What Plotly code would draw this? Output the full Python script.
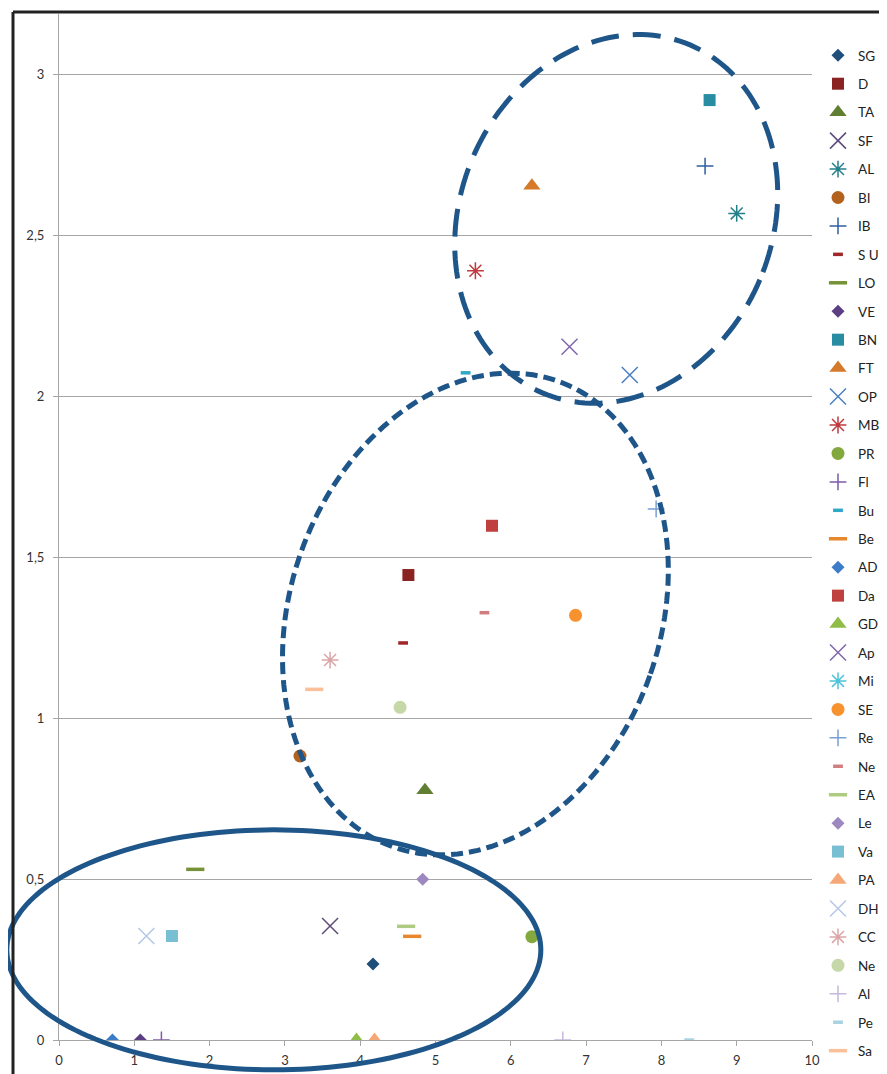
import numpy as np
import plotly.graph_objects as go

# series names, in legend order
names = ["SG", "D", "TA", "SF", "AL", "BI", "IB", "S U", "LO",
         "VE", "BN", "FT", "OP", "MB", "PR", "Fl", "Bu", "Be",
         "AD", "Da", "GD", "Ap", "Mi", "SE", "Re", "Ne", "EA",
         "Le", "Va", "PA", "DH", "CC", "Ne", "Al", "Pe", "Sa"]
x_vals = [4.17, 4.64, 4.86, 3.60, 9.00, 3.20, 8.58, 4.57, 1.81,
          1.08, 8.64, 6.28, 7.58, 5.53, 6.28, 1.36, 5.40, 4.69,
          0.71, 5.75, 3.95, 6.78, None, 6.86, 7.93, 5.65, 4.61,
          4.83, 1.50, 4.19, 1.16, 3.60, 4.53, 6.69, 8.37, 3.39]
y_vals = [0.236, 1.444, 0.776, 0.354, 2.567, 0.882, 2.714, 1.233, 0.530,
          0.0, 2.919, 2.653, 2.065, 2.389, 0.321, 0.0, 2.072, 0.322,
          0.0, 1.597, 0.0, 2.153, None, 1.319, 1.649, 1.327, 0.353,
          0.499, 0.323, 0.0, 0.323, 1.180, 1.033, 0.0, 0.0, 1.089]

colors = ["#1F4E7A", "#8B2323", "#617F32", "#5F497A", "#23808A", "#B3621E", "#2E5FA0", "#A0262A", "#769236",
          "#5B3F82", "#288DA3", "#D47A2A", "#4A7EC0", "#C0393E", "#82A83E", "#7D5BA6", "#2EA8C6", "#E8882E",
          "#3D7CC9", "#C0403F", "#90BC48", "#8266AA", "#4BC3D8", "#F7922F", "#7A9FD3", "#D17F7E", "#AECB82",
          "#9E88C0", "#79BFD4", "#F6A777", "#B5C7E6", "#DAA6A6", "#C6D8A8", "#C7B9DC", "#A7D3E3", "#FBC09A"]

# excel marker cycle: diamond, square, triangle, x, star, circle, plus, short dash, long dash
cycle = [("diamond", 10, 0), ("square", 12, 0), ("triangle-up", 15, 0),
         ("x-thin-open", 16, 1.5), ("asterisk-open", 14, 1.5), ("circle", 13, 0),
         ("cross-thin-open", 12, 1.5), ("line-ew-open", 7, 3.5), ("line-ew-open", 13, 3.5)]

OFF = 8                 # page body margin, everything below is in page pixels
W, H = 887 - OFF, 1074 - OFF
X0, X1 = 59, 812        # page pixel of x=0 and x=10
Y0, YTOP = 1040, 14     # page pixel of y=0 and top of plot area
SY = 322.0              # pixels per y unit
ymax = (Y0 - YTOP) / SY
SX = (X1 - X0) / 10.0


def px(v):
    return (v - OFF) / W


def py(v):
    return 1 - (v - OFF) / H


fig = go.Figure()
for i, (n, xv, yv, c) in enumerate(zip(names, x_vals, y_vals, colors)):
    sym, sz, lw = cycle[i % 9]
    fig.add_trace(go.Scatter(
        x=[xv], y=[yv], mode="markers", name=n, legendgroup="g%d" % i,
        marker=dict(symbol=sym, size=sz, color=c, line=dict(color=c, width=lw))))


def ellipse_path(cx, cy, a, b, rot):
    """rotated ellipse, centre in data units, semi-axes in pixels, path in paper coords"""
    cpx = X0 + cx * SX
    cpy = Y0 - cy * SY
    t = np.linspace(0, 2 * np.pi, 181)
    u = a * np.cos(t)
    v = b * np.sin(t)
    th = np.radians(rot)
    xs = cpx + u * np.cos(th) - v * np.sin(th)
    ys = cpy + u * np.sin(th) + v * np.cos(th)
    pts = ["%.5f,%.5f" % (px(xx), py(yy)) for xx, yy in zip(xs, ys)]
    return "M" + "L".join(pts) + "Z"


blue = "#1F5689"
shapes = [
    dict(type="path", path=ellipse_path(7.40, 2.55, 156, 189, 23), xref="paper", yref="paper",
         line=dict(color=blue, width=5, dash="28px,14px"), layer="above"),
    dict(type="path", path=ellipse_path(5.53, 1.323, 185, 247, 19.5), xref="paper", yref="paper",
         line=dict(color=blue, width=5, dash="12px,6px"), layer="above"),
    dict(type="path", path=ellipse_path(2.853, 0.28, 267, 120, 0), xref="paper", yref="paper",
         line=dict(color=blue, width=5), layer="above"),
    # black frame on top and left
    dict(type="line", xref="paper", yref="paper", x0=px(13), x1=1.0, y0=py(12), y1=py(12),
         line=dict(color="#222222", width=3)),
    dict(type="line", xref="paper", yref="paper", x0=px(13), x1=px(13), y0=py(12), y1=0,
         line=dict(color="#222222", width=3)),
]

fig.update_layout(
    width=W, height=H,
    margin=dict(l=0, r=0, t=0, b=0, autoexpand=False),
    paper_bgcolor="white", plot_bgcolor="white",
    separators=",.",
    font=dict(family="Lato, Open Sans, sans-serif", size=13, color="#333333"),
    shapes=shapes,
    xaxis=dict(range=[0, 10], domain=[px(X0), px(X1)], dtick=1, showgrid=False, zeroline=False,
               showline=True, linecolor="#A6A6A6", ticks="outside", ticklen=5, tickcolor="#A6A6A6",
               ticklabelstandoff=3, automargin=False),
    yaxis=dict(range=[0, ymax], domain=[py(Y0), py(YTOP)], dtick=0.5, showgrid=True,
               gridcolor="#A6A6A6", zeroline=False, showline=True, linecolor="#A6A6A6",
               ticks="outside", ticklen=5, tickcolor="#A6A6A6", ticklabelstandoff=6,
               automargin=False),
    legend=dict(x=px(818), xanchor="left", y=py(40), yanchor="top",
                traceorder="grouped", tracegroupgap=7.89,
                font=dict(family="Lato, Open Sans, sans-serif", size=13.5, color="#222222"),
                bgcolor="rgba(0,0,0,0)"),
)

fig.write_html("out.html")
